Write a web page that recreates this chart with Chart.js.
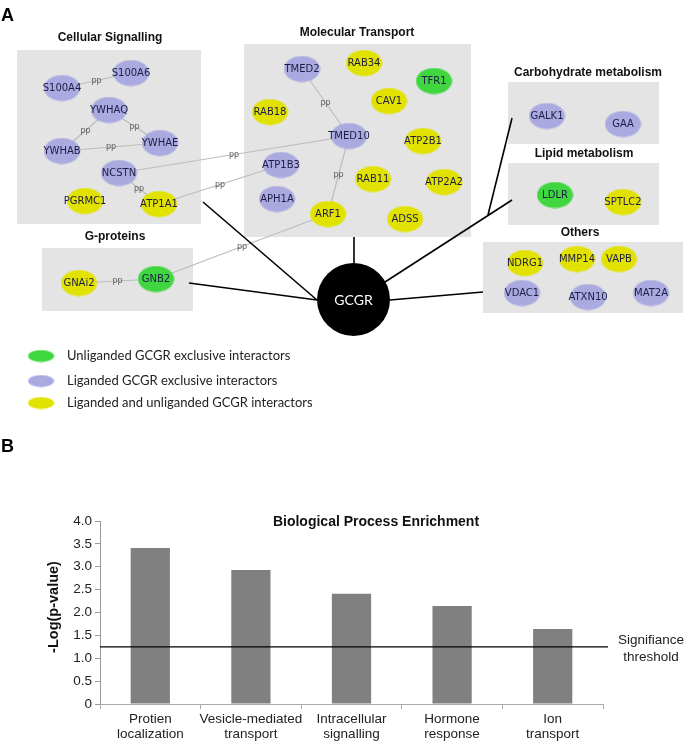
<!DOCTYPE html>
<html>
<head>
<meta charset="utf-8">
<script src="https://cdn.jsdelivr.net/npm/chart.js@4.4.1/dist/chart.umd.min.js"></script>
<style>
html, body { margin: 0; padding: 0; background: #fff; }
#wrap { position: relative; width: 686px; height: 743px; overflow: hidden; }
#net { position: absolute; left: 0; top: 0; }
#bars { position: absolute; left: 0; top: 470px; }
</style>
</head>
<body>
<div id="wrap">
  <canvas id="net" width="686" height="470"></canvas>
  <canvas id="bars" width="686" height="273"></canvas>
</div>
<script>
// ---- panel A: interaction network (layout) ----
const nodeNames = ['S100A6', 'S100A4', 'YWHAQ', 'YWHAE', 'YWHAB', 'NCSTN', 'PGRMC1', 'ATP1A1',
  'TMED2', 'RAB34', 'TFR1', 'CAV1', 'RAB18', 'TMED10', 'ATP2B1', 'ATP1B3', 'RAB11', 'ATP2A2',
  'APH1A', 'ARF1', 'ADSS', 'GNAi2', 'GNB2', 'GALK1', 'GAA', 'LDLR', 'SPTLC2',
  'NDRG1', 'MMP14', 'VAPB', 'VDAC1', 'ATXN10', 'MAT2A'];
const nodeX = [131, 62, 109, 160, 62, 119, 85, 159,
  302, 364, 434, 389, 270, 349, 423, 281, 373, 444,
  277, 328, 405, 79, 156, 547, 623, 555, 623,
  525, 577, 619, 522, 588, 651];
const nodeY = [73, 88, 110, 143, 151, 173, 201, 204,
  69, 63, 81, 101, 112, 136, 141, 165, 179, 182,
  199, 214, 219, 283, 279, 116, 124, 195, 202,
  263, 259, 259, 293, 297, 293];
// u = unliganded exclusive, l = liganded exclusive, b = both
const nodeType = ['l', 'l', 'l', 'l', 'l', 'l', 'b', 'b',
  'l', 'b', 'u', 'b', 'b', 'l', 'b', 'l', 'b', 'b',
  'l', 'b', 'b', 'b', 'u', 'l', 'l', 'u', 'b',
  'b', 'b', 'b', 'l', 'l', 'l'];
const edges = [['S100A4', 'S100A6'], ['YWHAQ', 'YWHAB'], ['YWHAQ', 'YWHAE'], ['YWHAB', 'YWHAE'],
  ['NCSTN', 'ATP1A1'], ['NCSTN', 'TMED10'], ['ATP1A1', 'ATP1B3'], ['TMED2', 'TMED10'],
  ['TMED10', 'ARF1'], ['GNAi2', 'GNB2'], ['GNB2', 'ARF1']];
const hubName = 'GCGR';
const hubX = 353.5, hubY = 299.5;
// links from the hub to each group box
const spokeX = [[203, 317], [189, 317], [354, 354], [385, 512], [488, 512], [390, 483]];
const spokeY = [[202, 300], [283, 300], [237, 263], [282, 200], [215, 118], [300, 292]];

const groups = [
  { title: 'Cellular Signalling', x0: 17, x1: 201, y0: 50, y1: 224, tx: 110, ty: 38 },
  { title: 'Molecular Transport', x0: 244, x1: 471, y0: 44, y1: 237, tx: 357, ty: 33 },
  { title: 'Carbohydrate metabolism', x0: 508, x1: 659, y0: 82, y1: 144, tx: 588, ty: 73 },
  { title: 'Lipid metabolism', x0: 508, x1: 659, y0: 163, y1: 225, tx: 584, ty: 154 },
  { title: 'G-proteins', x0: 42, x1: 193, y0: 248, y1: 311, tx: 115, ty: 237 },
  { title: 'Others', x0: 483, x1: 683, y0: 242, y1: 313, tx: 580, ty: 233 }
];
const legendTypes = ['u', 'l', 'b'];
const legendText = ['Unliganded GCGR exclusive interactors', 'Liganded GCGR exclusive interactors',
  'Liganded and unliganded GCGR interactors'];

// ---- panel B: enrichment bars ----
const categories = [['Protien', 'localization'], ['Vesicle-mediated', 'transport'],
  ['Intracellular', 'signalling'], ['Hormone', 'response'], ['Ion', 'transport']];
const enrichment = [3.41, 2.93, 2.41, 2.14, 1.64];
const threshold = 1.25;
const yTickLabels = ['0', '0.5', '1.0', '1.5', '2.0', '2.5', '3.0', '3.5', '4.0'];

const colors = { u: '#3fd63f', l: '#aaaae0', b: '#e2e200' };

function ellipseImg(color, w, h) {
  const c = document.createElement('canvas');
  c.width = w; c.height = h;
  const g = c.getContext('2d');
  g.fillStyle = color;
  g.beginPath();
  g.ellipse(w / 2, h / 2, w / 2 - 0.5, h / 2 - 0.5, 0, 0, Math.PI * 2);
  g.fill();
  return c;
}
const nodeImg = {};
const legendImg = {};
for (const t of legendTypes) {
  nodeImg[t] = ellipseImg(colors[t], 37, 27);
  legendImg[t] = ellipseImg(colors[t], 27, 13);
}

function idx(name) { return nodeNames.indexOf(name); }

const netData = [];
edges.forEach(e => {
  const a = idx(e[0]), b = idx(e[1]);
  netData.push({
    data: [{ x: nodeX[a], y: nodeY[a] }, { x: nodeX[b], y: nodeY[b] }],
    showLine: true, borderColor: '#bcbcbc', borderWidth: 1.2, pointRadius: 0, order: 4
  });
});
spokeX.forEach((sx, i) => {
  netData.push({
    data: [{ x: sx[0], y: spokeY[i][0] }, { x: sx[1], y: spokeY[i][1] }],
    showLine: true, borderColor: '#000', borderWidth: 1.6, pointRadius: 0, order: 3
  });
});
legendTypes.forEach(t => {
  const pts = [];
  nodeNames.forEach((n, i) => { if (nodeType[i] === t) pts.push({ x: nodeX[i], y: nodeY[i], name: n }); });
  netData.push({ data: pts, pointStyle: nodeImg[t], pointRadius: 18, isNode: true, order: 1 });
});
netData.push({
  data: [{ x: hubX, y: hubY, name: hubName }], pointStyle: 'circle', pointRadius: 36.5,
  backgroundColor: '#000', borderWidth: 0, isHub: true, order: 0
});

const netPlugin = {
  id: 'netDecor',
  beforeDatasetsDraw(chart) {
    const c = chart.ctx, sx = chart.scales.x, sy = chart.scales.y;
    c.save();
    groups.forEach(g => {
      const x0 = sx.getPixelForValue(g.x0), x1 = sx.getPixelForValue(g.x1);
      const y0 = sy.getPixelForValue(g.y0), y1 = sy.getPixelForValue(g.y1);
      c.fillStyle = '#e4e4e4';
      c.fillRect(x0, y0, x1 - x0, y1 - y0);
      c.fillStyle = '#111';
      c.font = 'bold 12px "Liberation Sans", Arial, sans-serif';
      c.textAlign = 'center';
      c.textBaseline = 'middle';
      c.fillText(g.title, sx.getPixelForValue(g.tx), sy.getPixelForValue(g.ty));
    });
    c.restore();
  },
  afterDatasetsDraw(chart) {
    const c = chart.ctx, sx = chart.scales.x, sy = chart.scales.y;
    c.save();
    c.textAlign = 'center';
    c.textBaseline = 'middle';
    // pp labels at edge midpoints
    c.font = '8px "DejaVu Sans", sans-serif';
    c.fillStyle = '#5a5a5a';
    edges.forEach(e => {
      const a = idx(e[0]), b = idx(e[1]);
      c.fillText('pp', sx.getPixelForValue((nodeX[a] + nodeX[b]) / 2),
        sy.getPixelForValue((nodeY[a] + nodeY[b]) / 2));
    });
    // node labels
    chart.data.datasets.forEach((ds, di) => {
      if (!ds.isNode && !ds.isHub) return;
      const meta = chart.getDatasetMeta(di);
      meta.data.forEach((el, j) => {
        if (ds.isHub) {
          c.fillStyle = '#fff';
          c.font = '14px Lato, "Open Sans", sans-serif';
        } else {
          c.fillStyle = '#1c1c44';
          c.font = '10px "DejaVu Sans", sans-serif';
        }
        c.fillText(ds.data[j].name, el.x, el.y + 0.5);
      });
    });
    // legend
    c.textAlign = 'left';
    c.font = '13px Lato, "Open Sans", sans-serif';
    c.fillStyle = '#222';
    const ly = [356, 381, 403];
    legendTypes.forEach((t, i) => {
      c.drawImage(legendImg[t], 41 - 13.5, ly[i] - 6.5);
      c.fillText(legendText[i], 67, ly[i]);
    });
    // panel letters
    c.font = 'bold 18px "Liberation Sans", Arial, sans-serif';
    c.fillStyle = '#000';
    c.fillText('A', 1, 16);
    c.fillText('B', 1, 447);
    c.restore();
  }
};

new Chart(document.getElementById('net'), {
  type: 'scatter',
  data: { datasets: netData },
  options: {
    responsive: false,
    animation: false,
    events: [],
    layout: { padding: 0, autoPadding: false },
    plugins: { legend: { display: false }, tooltip: { enabled: false } },
    scales: {
      x: { type: 'linear', min: 0, max: 686, display: false },
      y: { type: 'linear', min: 0, max: 470, reverse: true, display: false }
    }
  },
  plugins: [netPlugin]
});

const barPlugin = {
  id: 'barDecor',
  afterDraw(chart) {
    const c = chart.ctx, a = chart.chartArea, sy = chart.scales.y;
    const ty = sy.getPixelForValue(threshold);
    c.save();
    c.strokeStyle = '#000';
    c.lineWidth = 1.2;
    c.beginPath();
    c.moveTo(a.left, ty);
    c.lineTo(a.right + 5, ty);
    c.stroke();
    c.fillStyle = '#222';
    c.textAlign = 'center';
    c.textBaseline = 'middle';
    c.font = '13.5px "Liberation Sans", Arial, sans-serif';
    c.fillText('Signifiance', 651, ty - 7);
    c.fillText('threshold', 651, ty + 10);
    c.fillStyle = '#111';
    c.font = 'bold 14px "Liberation Sans", Arial, sans-serif';
    c.fillText('Biological Process Enrichment', 376, 52);
    c.translate(54, 137);
    c.rotate(-Math.PI / 2);
    c.font = 'bold 14.5px "Liberation Sans", Arial, sans-serif';
    c.fillText('-Log(p-value)', 0, 0);
    c.restore();
  }
};

new Chart(document.getElementById('bars'), {
  type: 'bar',
  data: {
    labels: categories,
    datasets: [{
      data: enrichment,
      backgroundColor: '#808080',
      barPercentage: 0.39,
      categoryPercentage: 1
    }]
  },
  options: {
    responsive: false,
    animation: false,
    events: [],
    layout: { padding: { top: 51, right: 83, left: 0, bottom: 0 } },
    plugins: { legend: { display: false }, tooltip: { enabled: false } },
    scales: {
      y: {
        min: 0, max: 4,
        ticks: {
          stepSize: 0.5,
          color: '#222',
          padding: 3,
          font: { family: '"Liberation Sans", Arial, sans-serif', size: 13.5 },
          callback: (v, i) => yTickLabels[i]
        },
        grid: { drawOnChartArea: false, tickLength: 5, color: '#999' },
        border: { color: '#999' },
        afterFit: s => { s.width = 100; }
      },
      x: {
        ticks: {
          color: '#222',
          padding: 3,
          maxRotation: 0,
          autoSkip: false,
          font: { family: '"Liberation Sans", Arial, sans-serif', size: 13.5, lineHeight: 1.1 }
        },
        grid: { offset: true, drawOnChartArea: false, tickLength: 5, color: '#aaa' },
        border: { color: '#aaa' },
        afterFit: s => { s.height = 39; }
      }
    }
  },
  plugins: [barPlugin]
});
</script>
</body>
</html>
